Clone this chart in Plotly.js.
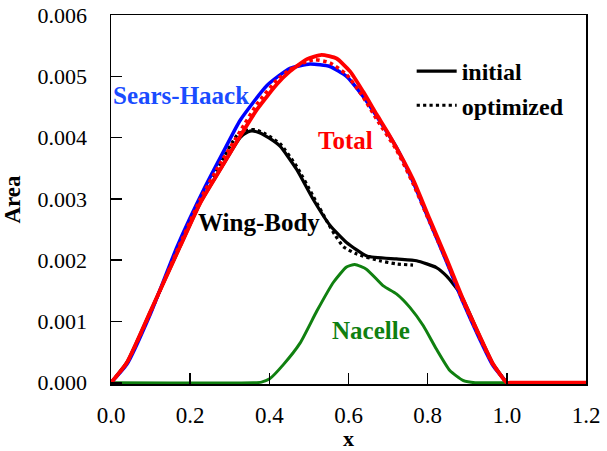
<!DOCTYPE html>
<html>
<head>
<meta charset="utf-8">
<script src="https://cdn.plot.ly/plotly-3.0.1.min.js"></script>
<style>
  html, body { margin: 0; padding: 0; background: #ffffff; }
  #chart { width: 607px; height: 451px; }
</style>
</head>
<body>
<div id="chart"></div>
<script>
// Cross-sectional area distributions along the normalised length x.

// Sears-Haack ideal body
const searsX = [0.00, 0.04, 0.10, 0.167, 0.238, 0.284, 0.326, 0.394, 0.452, 0.503, 0.553, 0.595, 0.637, 0.679, 0.721, 0.763, 0.805, 0.848, 0.889, 0.931, 0.965, 1.00];
const searsY = [0.0, 0.00030, 0.00113, 0.00222, 0.00320, 0.00377, 0.00428, 0.00485, 0.00513, 0.00520, 0.00516, 0.00500, 0.00467, 0.00427, 0.00384, 0.00328, 0.00263, 0.00197, 0.00132, 0.00072, 0.00028, 0.0];

// Total area, initial configuration
const totalInitX = [0.00, 0.041, 0.10, 0.175, 0.226, 0.276, 0.326, 0.369, 0.419, 0.452, 0.495, 0.532, 0.570, 0.604, 0.637, 0.671, 0.705, 0.763, 0.805, 0.848, 0.889, 0.931, 0.965, 1.00, 1.008, 1.20];
const totalInitY = [0.0, 0.00034, 0.00117, 0.00223, 0.00294, 0.00348, 0.00402, 0.00446, 0.00487, 0.00508, 0.00528, 0.00535, 0.00529, 0.00508, 0.00475, 0.00438, 0.00402, 0.00332, 0.00267, 0.00202, 0.00137, 0.00077, 0.00031, 0.0, 0.0, 0.0];

// Total area, optimized configuration
const totalOptX = [0.00, 0.04, 0.10, 0.17, 0.226, 0.276, 0.326, 0.369, 0.419, 0.452, 0.495, 0.516, 0.553, 0.595, 0.637, 0.671, 0.721, 0.763, 0.805, 0.848, 0.889, 0.931, 0.965, 1.00];
const totalOptY = [0.0, 0.00032, 0.00115, 0.00220, 0.00300, 0.00358, 0.00410, 0.00455, 0.00494, 0.00511, 0.00524, 0.00527, 0.00522, 0.00503, 0.00466, 0.00430, 0.00380, 0.00325, 0.00262, 0.00198, 0.00133, 0.00074, 0.00029, 0.0];

// Wing-body area, initial configuration
const wbInitX = [0.00, 0.041, 0.10, 0.175, 0.226, 0.276, 0.326, 0.345, 0.356, 0.375, 0.40, 0.427, 0.469, 0.511, 0.553, 0.595, 0.646, 0.721, 0.772, 0.822, 0.848, 0.881, 0.931, 0.965, 1.00];
const wbInitY = [0.0, 0.00034, 0.00117, 0.00223, 0.00294, 0.00348, 0.00400, 0.00409, 0.00411, 0.00408, 0.00399, 0.00386, 0.00348, 0.00299, 0.00257, 0.00229, 0.00207, 0.00202, 0.00199, 0.00188, 0.00174, 0.00147, 0.00077, 0.00031, 0.0];

// Wing-body area, optimized configuration
const wbOptX = [0.00, 0.04, 0.10, 0.17, 0.226, 0.276, 0.32, 0.345, 0.364, 0.39, 0.427, 0.469, 0.511, 0.545, 0.565, 0.587, 0.621, 0.679, 0.72, 0.763];
const wbOptY = [0.0, 0.00032, 0.00115, 0.00220, 0.00300, 0.00358, 0.00405, 0.00412, 0.00413, 0.00406, 0.00390, 0.00353, 0.00304, 0.00264, 0.00242, 0.00222, 0.00210, 0.00199, 0.00194, 0.00192];

// Nacelle area
const nacelleX = [0.00, 0.36, 0.38, 0.40, 0.436, 0.478, 0.52, 0.562, 0.595, 0.616, 0.646, 0.688, 0.721, 0.755, 0.789, 0.822, 0.856, 0.889, 0.92, 0.93, 1.00];
const nacelleY = [0.0, 0.0, 0.00001, 0.00006, 0.00030, 0.00065, 0.00117, 0.00164, 0.00189, 0.00193, 0.00185, 0.00158, 0.00145, 0.00123, 0.00093, 0.00055, 0.00020, 0.00004, 0.0, 0.0, 0.0];

const xTicks = [0.0, 0.2, 0.4, 0.6, 0.8, 1.0, 1.2];
const yTicks = [0.000, 0.001, 0.002, 0.003, 0.004, 0.005, 0.006];

const SERIF = 'Liberation Serif, Times New Roman, serif';
const BLUE = '#0000ff';
const RED = '#ff0000';
const GREEN = '#108010';

const curve = { shape: 'spline', smoothing: 0.5 };

const traces = [
  { x: nacelleX, y: nacelleY, mode: 'lines', showlegend: false,
    line: Object.assign({ color: GREEN, width: 3 }, curve) },
  { x: wbOptX, y: wbOptY, mode: 'lines', name: 'optimized', legendrank: 2,
    line: Object.assign({ color: '#000000', width: 3.2, dash: 'dot' }, curve) },
  { x: wbInitX, y: wbInitY, mode: 'lines', name: 'initial', legendrank: 1,
    line: Object.assign({ color: '#000000', width: 3.2 }, curve) },
  { x: searsX, y: searsY, mode: 'lines', showlegend: false,
    line: Object.assign({ color: BLUE, width: 3.5 }, curve) },
  { x: totalOptX, y: totalOptY, mode: 'lines', showlegend: false,
    line: Object.assign({ color: RED, width: 3.5, dash: 'dot' }, curve) },
  { x: totalInitX, y: totalInitY, mode: 'lines', showlegend: false,
    line: Object.assign({ color: RED, width: 3.8 }, curve) }
];

const labelFont = (c) => ({ family: SERIF, size: 25, color: c, weight: 'bold' });

const layout = {
  width: 607,
  height: 451,
  margin: { l: 110.5, r: 20.5, t: 14.5, b: 67 },
  paper_bgcolor: '#ffffff',
  plot_bgcolor: '#ffffff',
  showlegend: true,
  legend: {
    x: 0.633, y: 0.908, xanchor: 'left', yanchor: 'top',
    bgcolor: 'rgba(0,0,0,0)',
    font: { family: SERIF, size: 24, color: '#000000', weight: 'bold' },
    itemwidth: 40,
    tracegroupgap: 0,
    traceorder: 'normal'
  },
  xaxis: {
    range: [0, 1.2],
    tickvals: xTicks,
    ticktext: xTicks.map(v => v.toFixed(1)),
    ticks: 'inside', ticklen: 11, tickwidth: 1.5, tickcolor: '#000000',
    ticklabelstandoff: 10,
    showline: true, linecolor: '#000000', linewidth: 1.5, mirror: true,
    showgrid: false, zeroline: false,
    tickfont: { family: SERIF, size: 23, color: '#000000' }
  },
  yaxis: {
    range: [-0.00002, 0.006],
    tickvals: yTicks,
    ticktext: yTicks.map(v => v.toFixed(3)),
    ticks: 'inside', ticklen: 11, tickwidth: 1.5, tickcolor: '#000000',
    ticklabelstandoff: 18,
    showline: true, linecolor: '#000000', linewidth: 1.5, mirror: true,
    showgrid: false, zeroline: false,
    tickfont: { family: SERIF, size: 22, color: '#000000' },
    title: { text: 'Area', standoff: 12, font: { family: SERIF, size: 23, color: '#000000', weight: 'bold' } }
  },
  annotations: [
    // horizontal axis title, placed just below the tick labels
    { xref: 'paper', yref: 'paper', x: 0.5, y: -0.149, yanchor: 'middle',
      text: 'x', showarrow: false, borderpad: 0,
      font: { family: SERIF, size: 22, color: '#000000', weight: 'bold' } },
    { x: 0.178, y: 0.00469, text: 'Sears-Haack', showarrow: false, font: labelFont('#1a4cff') },
    { x: 0.592, y: 0.00396, text: 'Total', showarrow: false, font: labelFont(RED) },
    { x: 0.375, y: 0.00261, text: 'Wing-Body', showarrow: false, font: labelFont('#000000') },
    { x: 0.657, y: 0.00086, text: 'Nacelle', showarrow: false, font: labelFont(GREEN) }
  ]
};

Plotly.newPlot('chart', traces, layout, { displayModeBar: false, staticPlot: true });
</script>
</body>
</html>
